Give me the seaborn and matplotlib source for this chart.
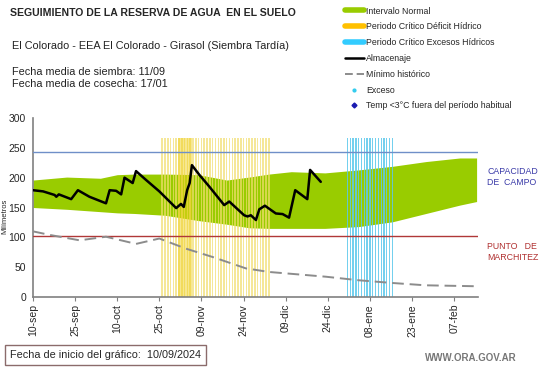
import numpy as np
import pandas as pd
import matplotlib
matplotlib.use("Agg")
import matplotlib.pyplot as plt
from matplotlib.lines import Line2D
import seaborn as sns

# days counted from 10/09/2024
tick_days = [0, 15, 30, 45, 60, 75, 90, 105, 120, 135, 150]
tick_labels = ["10-sep", "25-sep", "10-oct", "25-oct", "09-nov", "24-nov",
               "09-dic", "24-dic", "08-ene", "23-ene", "07-feb"]

# intervalo normal (green band)
band_day = [0, 12, 24, 30, 36, 47, 59, 69, 77, 84, 92, 104, 116, 128, 140, 152, 158]
band_upper = [196, 201, 199, 205, 206, 206, 205, 196, 201, 206, 210, 208, 213, 219, 227, 233, 233]
band_lower = [150, 147, 143, 141, 140, 137, 128, 122, 116, 115, 115, 115, 118, 126, 140, 154, 160]

# almacenaje
alm_day = [0, 3.6, 7.7, 8.3, 9.2, 13.6, 16, 20.1, 26, 27.3, 29.6, 31.4, 32.6, 35.5, 36.7,
           40.3, 45, 51, 52.7, 53.7, 54.9, 55.8, 56.6, 59.2, 62.8, 68.1, 69.9, 75.2, 76.4,
           77.6, 79.4, 80.6, 82.6, 86.5, 88.9, 91.2, 93.4, 97.7, 98.7, 102.5]
alm_val = [179, 177, 171, 168, 172, 164, 179, 168, 157, 179, 178, 172, 200, 191, 211,
           196, 177, 149, 156, 151, 179, 191, 221, 205, 185, 154, 160, 137, 135,
           137, 129, 147, 153, 140, 139, 133, 179, 164, 213, 193]

# minimo historico
min_day = [0, 6, 16.6, 26, 36.7, 45, 54.5, 64, 75.8, 84, 104.3, 116.1, 128, 139.8, 158]
min_val = [110, 104, 95, 101, 89, 98, 81, 67, 48, 42, 34, 28, 23.5, 19.6, 18]

capacidad_campo = 243
punto_marchitez = 102

deficit_days = list(range(46, 85))
deficit_strong_days = [52, 53, 54, 55, 56]
exceso_days = list(range(112, 129))
stripe_top = 267

sns.set_style("white")
plt.rcParams["font.family"] = ["Liberation Sans", "DejaVu Sans"]

fig = plt.figure(figsize=(5.41, 3.68), dpi=100)
ax = fig.add_axes([33 / 541, 1 - 297 / 368, (478 - 33) / 541, (297 - 118) / 368])

ax.fill_between(band_day, band_lower, band_upper, color="#99CC00", lw=0, zorder=1)

ax.bar(deficit_days, stripe_top, width=0.55, color="#F2DE6E", alpha=0.7, lw=0, zorder=2)
ax.bar(deficit_strong_days, stripe_top, width=0.95, color="#F0D020", alpha=0.5, lw=0, zorder=2)
ax.bar(exceso_days, stripe_top, width=0.45, color="#5CC8EC", alpha=0.85, lw=0, zorder=2)

ax.axhline(capacidad_campo, color="#6F8FC8", lw=1, zorder=3)
ax.axhline(punto_marchitez, color="#B03838", lw=1, zorder=3)

min_df = pd.DataFrame({"dia": min_day, "mm": min_val})
sns.lineplot(data=min_df, x="dia", y="mm", ax=ax, color="#8C8C8C", lw=1.4, zorder=4)
ax.lines[-1].set_dashes([6, 3])

alm_df = pd.DataFrame({"dia": alm_day, "mm": alm_val})
sns.lineplot(data=alm_df, x="dia", y="mm", ax=ax, color="black", lw=1.8, zorder=5)

ax.set_xlim(0, 158.5)
ax.set_ylim(0, 300)
ax.set_yticks(range(0, 301, 50))
ax.set_xticks(tick_days)
ax.set_xticklabels(tick_labels, rotation=90, fontsize=7.5)
ax.tick_params(axis="y", labelsize=7.5, length=3, color="#808080", pad=2)
ax.tick_params(axis="x", length=3, color="#808080", pad=2, bottom=True)
ax.set_xlabel("")
ax.set_ylabel("Milímetros", fontsize=5.5)
ax.yaxis.set_label_coords(-0.055, 0.45)
for side in ["top", "right"]:
    ax.spines[side].set_visible(False)
for side in ["left", "bottom"]:
    ax.spines[side].set_color("#808080")
    ax.spines[side].set_linewidth(1.2)

ax.text(487 / 541, 1 - 177 / 368, "CAPACIDAD\nDE  CAMPO", transform=fig.transFigure,
        fontsize=6.3, color="#3A3AA8", va="center", ha="left", linespacing=1.15)
ax.text(487 / 541, 1 - 252 / 368, "PUNTO   DE\nMARCHITEZ", transform=fig.transFigure,
        fontsize=6.3, color="#B03030", va="center", ha="left", linespacing=1.15)

fig.text(10 / 541, 1 - 13 / 368, "SEGUIMIENTO DE LA RESERVA DE AGUA  EN EL SUELO",
         fontsize=7.6, fontweight="bold", va="center")
fig.text(12 / 541, 1 - 46 / 368, "El Colorado - EEA El Colorado - Girasol (Siembra Tardía)",
         fontsize=7.8, color="#222222", va="center")
fig.text(12 / 541, 1 - 78 / 368, "Fecha media de siembra: 11/09\nFecha media de cosecha: 17/01",
         fontsize=7.8, color="#222222", va="center", linespacing=1.2)

handles = [
    Line2D([], [], color="#99CC00", lw=4),
    Line2D([], [], color="#FFC000", lw=4),
    Line2D([], [], color="#33CCFF", lw=4),
    Line2D([], [], color="black", lw=1.8),
    Line2D([], [], color="#8C8C8C", lw=1.4, dashes=[4, 2]),
    Line2D([], [], color="#33CCEE", marker="o", ms=2, lw=0),
    Line2D([], [], color="#1A1AB0", marker="D", ms=2.5, lw=0),
]
labels = ["Intervalo Normal", "Periodo Crítico Déficit Hídrico",
          "Periodo Crítico Excesos Hídricos", "Almacenaje", "Mínimo histórico",
          "Exceso", "Temp <3°C fuera del período habitual"]
fig.legend(handles, labels, loc="upper left", bbox_to_anchor=(341 / 541, 1 - 3 / 368),
           frameon=False, fontsize=6.3, handlelength=2.2, handletextpad=0.3,
           labelspacing=0.78, borderaxespad=0)

fig.text(10 / 541, 1 - 355 / 368, "Fecha de inicio del gráfico:  10/09/2024", fontsize=7.8,
         va="center", ha="left",
         bbox=dict(boxstyle="square,pad=0.45", fc="white", ec="#8B6B6B", lw=1))
fig.text(517 / 541, 1 - 358 / 368, "WWW.ORA.GOV.AR", fontsize=7, color="#777777",
         fontweight="bold", ha="right", va="center")

fig.savefig("out.png", dpi=100)
